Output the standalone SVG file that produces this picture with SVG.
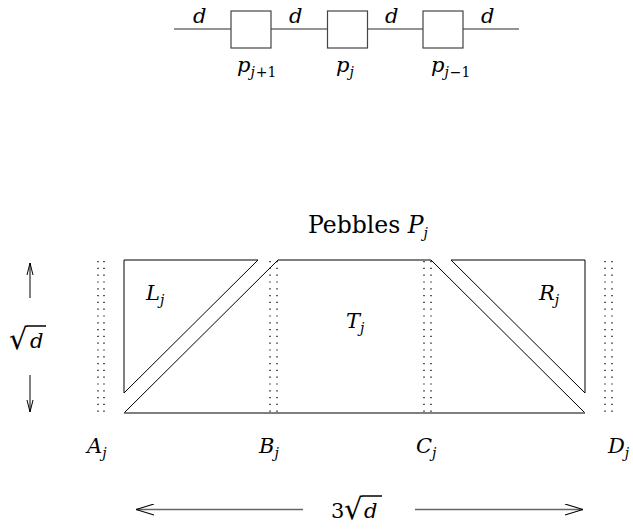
<svg xmlns="http://www.w3.org/2000/svg" width="633" height="529" viewBox="0 0 633 529" font-family="DejaVu Serif, serif">
<defs>
<style>
text{font-family:"DejaVu Serif",serif;font-size:21px;fill:#000}
.m{font-style:italic}
.sub{font-size:14px}
.rad{font-size:29px}
.big{font-size:23.500px}
.bar{stroke:#000;stroke-width:1.5}
.box{fill:#fff;stroke:#444;stroke-width:1.2}
.wire{stroke:#707070;stroke-width:1.5;fill:none}
.shape{fill:none;stroke:#000;stroke-width:1}
.base{stroke:#555;stroke-width:1.5}
.dot{stroke:#000;stroke-width:1.3;stroke-dasharray:1.2 5.6;fill:none}
.arr{stroke:#666;stroke-width:1.5;fill:none}
.varr{stroke:#000;stroke-width:1;fill:none}
</style>
<marker id="hl" markerUnits="userSpaceOnUse" markerWidth="20" markerHeight="12" viewBox="0 0 20 12" refX="0" refY="6" orient="auto"><path d="M18,0.5 L0,6 L18,11.5" fill="none" stroke="#000" stroke-width="1.1"/></marker>
<marker id="hs" markerUnits="userSpaceOnUse" markerWidth="14" markerHeight="8" viewBox="0 0 14 8" refX="0" refY="4" orient="auto"><path d="M12,1 L0,4 L12,7" fill="none" stroke="#000" stroke-width="1"/></marker>
</defs>
<g id="connectors">
<line class="wire" x1="174" y1="29" x2="519" y2="29"/>
<text class="m" x="193" y="23">d</text>
<text class="m" x="289" y="23">d</text>
<text class="m" x="385" y="23">d</text>
<text class="m" x="481" y="23">d</text>
</g>
<g id="p_j_plus_1">
<rect class="box" x="231" y="11" width="40" height="37"/>
<text class="m" x="237" y="72">p<tspan class="sub" dy="5">j</tspan><tspan class="sub" font-style="normal" dx="1">+1</tspan></text>
</g>
<g id="p_j">
<rect class="box" x="327.500" y="11" width="40" height="37"/>
<text class="m" x="336" y="72">p<tspan class="sub" dy="5">j</tspan></text>
</g>
<g id="p_j_minus_1">
<rect class="box" x="423" y="11" width="40" height="37"/>
<text class="m" x="431" y="72">p<tspan class="sub" dy="5">j</tspan><tspan class="sub" font-style="normal" dx="1">−1</tspan></text>
</g>
<g id="pebbles">
<text class="big" x="308" y="233">Pebbles <tspan class="m">P</tspan><tspan class="m sub" dy="5">j</tspan></text>
</g>
<g id="boundaries">
<line class="dot" x1="98" y1="261" x2="98" y2="415"/>
<line class="dot" x1="104" y1="261" x2="104" y2="415"/>
<line class="dot" x1="270" y1="261" x2="270" y2="415"/>
<line class="dot" x1="277" y1="261" x2="277" y2="415"/>
<line class="dot" x1="424" y1="261" x2="424" y2="415"/>
<line class="dot" x1="431" y1="261" x2="431" y2="415"/>
<line class="dot" x1="605" y1="261" x2="605" y2="415"/>
<line class="dot" x1="612" y1="261" x2="612" y2="415"/>
</g>
<g id="L_j">
<polygon class="shape" points="124,260 258,260 124,393"/>
<text class="m" x="146" y="300">L<tspan class="sub" dy="5">j</tspan></text>
</g>
<g id="T_j">
<polyline class="shape" points="124,413 278,260 431,260 585,413"/>
<line class="base" x1="124" y1="413" x2="585" y2="413"/>
<text class="m" x="346" y="328">T<tspan class="sub" dy="5">j</tspan></text>
</g>
<g id="R_j">
<polygon class="shape" points="451,260 585,260 585,393"/>
<text class="m" x="539" y="300">R<tspan class="sub" dy="5">j</tspan></text>
</g>
<g id="labels">
<text class="m" x="87" y="453">A<tspan class="sub" dy="5">j</tspan></text>
<text class="m" x="259" y="453">B<tspan class="sub" dy="5">j</tspan></text>
<text class="m" x="416" y="453">C<tspan class="sub" dy="5">j</tspan></text>
<text class="m" x="608" y="453">D<tspan class="sub" dy="5">j</tspan></text>
</g>
<g id="height">
<line class="varr" x1="30" y1="263" x2="30" y2="298" marker-start="url(#hs)"/>
<line class="varr" x1="30" y1="412" x2="30" y2="375" marker-start="url(#hs)"/>
<text class="rad" x="9" y="349">√</text>
<text class="m" x="30" y="348">d</text>
<line class="bar" x1="27" y1="326" x2="46" y2="326"/>
</g>
<g id="width">
<line class="arr" x1="136" y1="509.500" x2="303" y2="509.500" marker-start="url(#hl)"/>
<line class="arr" x1="583" y1="509.500" x2="415" y2="509.500" marker-start="url(#hl)"/>
<text x="331" y="518">3</text>
<text class="rad" x="344" y="519">√</text>
<text class="m" x="364" y="518">d</text>
<line class="bar" x1="362" y1="496" x2="382" y2="496"/>
</g>
</svg>
